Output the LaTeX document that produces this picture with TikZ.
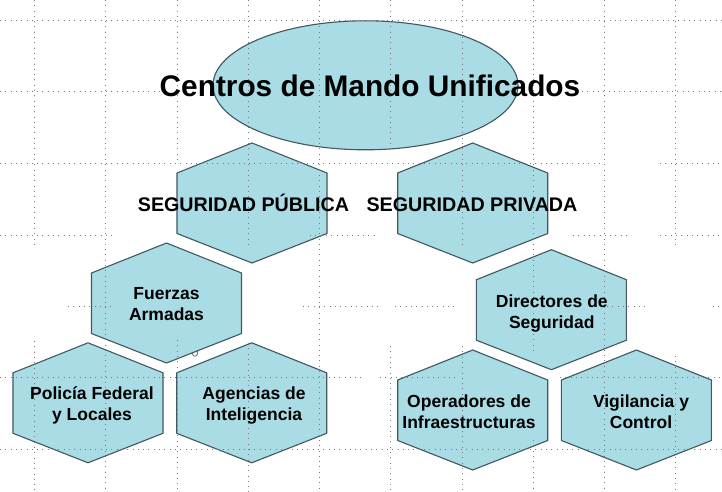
\documentclass[tikz,border=0pt]{standalone}
\usepackage{fontspec}
\setmainfont{Liberation Sans}
\usetikzlibrary{shapes.geometric}
\definecolor{hexfill}{HTML}{A9DCE5}
\definecolor{hexline}{HTML}{42575F}
\definecolor{gridc}{HTML}{7A7A7A}
\tikzset{
  hexa/.pic={\draw[hexline,fill=hexfill,line width=1.1pt,line join=round]
     (0,-60) -- (75,-30) -- (75,30.5) -- (0,60) -- (-75,30.5) -- (-75,-30) -- cycle;},
  gridline/.style={gridc,line width=0.9pt,dash pattern=on 0.9pt off 4.4pt},
  title/.style={font=\bfseries\fontsize{29.8}{32}\selectfont,anchor=base},
  seclabel/.style={font=\bfseries\fontsize{19.7}{22}\selectfont,anchor=base},
  hexlabel/.style={font=\bfseries\fontsize{17.5}{20.5}\selectfont,align=center,anchor=base,inner sep=0pt},
}
\begin{document}
\begin{tikzpicture}[x=1pt,y=-1pt]
\useasboundingbox (0,0) rectangle (722,492);
\fill[white] (0,0) rectangle (722,492);
% shapes
\node[ellipse,draw=hexline,fill=hexfill,line width=1.1pt,minimum width=305pt,minimum height=129pt,inner sep=0pt] (cmu) at (365.5,85.3) {};
\pic at (252,203) {hexa};
\pic at (472.7,203) {hexa};
\draw[hexline!80,line width=0.9pt] (192.6,351) -- (192.6,354) arc[start angle=180,end angle=360,x radius=2.4,y radius=-2.2] -- (197.4,350.5);
\pic at (166.5,303) {hexa};
\pic at (88,402.8) {hexa};
\pic at (251.7,402.8) {hexa};
\pic at (551.4,309.7) {hexa};
\pic at (472.7,410) {hexa};
\pic at (636.4,410) {hexa};
% dotted grid
\foreach \a/\b in {0/722} \draw[gridline] (\a,20) -- (\b,20);
\foreach \a/\b in {0/160,582/722} \draw[gridline] (\a,91) -- (\b,91);
\foreach \a/\b in {0/603,660/722} \draw[gridline] (\a,163) -- (\b,163);
\foreach \a/\b in {0/113,310/377,573/627,660/722} \draw[gridline] (\a,235) -- (\b,235);
\foreach \a/\b in {68/113,303/380,395/457,607/647,713/722} \draw[gridline] (\a,306) -- (\b,306);
\foreach \a/\b in {0/362,380/457,560/722} \draw[gridline] (\a,377) -- (\b,377);
\foreach \a/\b in {0/722} \draw[gridline] (\a,449) -- (\b,449);
\foreach \a/\b in {0/246,341/492} \draw[gridline] (34,\a) -- (34,\b);
\draw[gridline] (105.5,0) -- (105.5,492);
\foreach \a/\b in {0/163,340/492} \draw[gridline] (177,\a) -- (177,\b);
\foreach \a/\b in {0/246,343/492} \draw[gridline] (248,\a) -- (248,\b);
\draw[gridline] (319,0) -- (319,492);
\foreach \a/\b in {0/150,346/492} \draw[gridline] (390.5,\a) -- (390.5,\b);
\foreach \a/\b in {0/246,346/492} \draw[gridline] (462,\a) -- (462,\b);
\foreach \a/\b in {0/350,440/492} \draw[gridline] (533,\a) -- (533,\b);
\draw[gridline] (604,0) -- (604,492);
\foreach \a/\b in {0/246,356/492} \draw[gridline] (675.5,\a) -- (675.5,\b);
% texts
\node[title] (t) at (370,96.7) {Centros de Mando Unificados};
\node[seclabel] (sp) at (243.5,211.7) {SEGURIDAD PÚBLICA};
\node[seclabel] (pr) at (472,211.7) {SEGURIDAD PRIVADA};
\node[hexlabel] (fa) at (166.5,320) {Fuerzas\\Armadas};
\node[hexlabel] (pf) at (92,420) {Policía Federal\\y Locales};
\node[hexlabel] (ai) at (254,420) {Agencias de\\Inteligencia};
\node[hexlabel] (ds) at (551.8,328.3) {Directores de\\Seguridad};
\node[hexlabel] (oi) at (469,428.3) {Operadores de\\Infraestructuras};
\node[hexlabel] (vc) at (641,428.3) {Vigilancia y\\Control};
\end{tikzpicture}
\end{document}
